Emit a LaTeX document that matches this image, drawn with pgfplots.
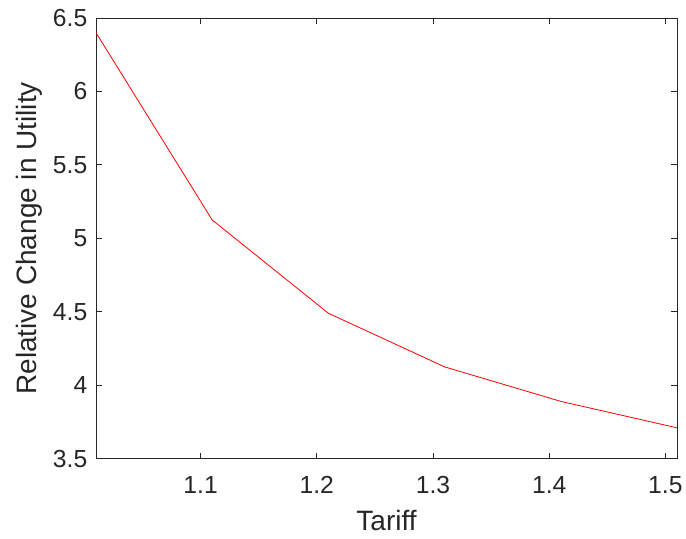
\documentclass[border=0pt]{standalone}
\usepackage{fontspec}
\setmainfont{Liberation Sans}
\usepackage{pgfplots}
\pgfplotsset{compat=1.18}
\definecolor{axgray}{HTML}{262626}
\begin{document}
\begin{tikzpicture}[x=1pt,y=1pt]
\begin{axis}[
  scale only axis,
  width=435.75pt, height=330.5pt,
  xmin=1.01, xmax=1.51, ymin=3.5, ymax=6.5,
  xtick={1.1,1.2,1.3,1.4,1.5},
  ytick={3.5,4,4.5,5,5.5,6,6.5},
  yticklabels={3.5,4,4.5,5,5.5,6,6.5},
  xticklabels={1.1,1.2,1.3,1.4,1.5},
  tick align=inside,
  major tick length=4.5pt,
  axis line style={axgray, line width=0.6pt},
  every tick/.style={axgray, line width=0.6pt},
  tick label style={font=\fontsize{18.5}{21}\selectfont, text=axgray},
  label style={font=\fontsize{21}{24}\selectfont, text=axgray},
  xlabel={Tariff},
  ylabel={Relative Change in Utility},
  /pgf/number format/assume math mode=true,
  xticklabel style={yshift=-9.5pt},
  yticklabel style={xshift=-3pt},
  xlabel style={yshift=-6pt},
  ylabel style={yshift=1.5pt},
]
\addplot[red, line width=0.6pt] coordinates {
  (1.01,6.40) (1.11,5.125) (1.21,4.49) (1.31,4.125) (1.41,3.89) (1.51,3.71)
};
\end{axis}
\pgfresetboundingbox
\useasboundingbox ([shift={(-72pt,-60.2pt)}]current axis.south west) rectangle ([shift={(6.75pt,13.5pt)}]current axis.north east);
\end{tikzpicture}
\end{document}
